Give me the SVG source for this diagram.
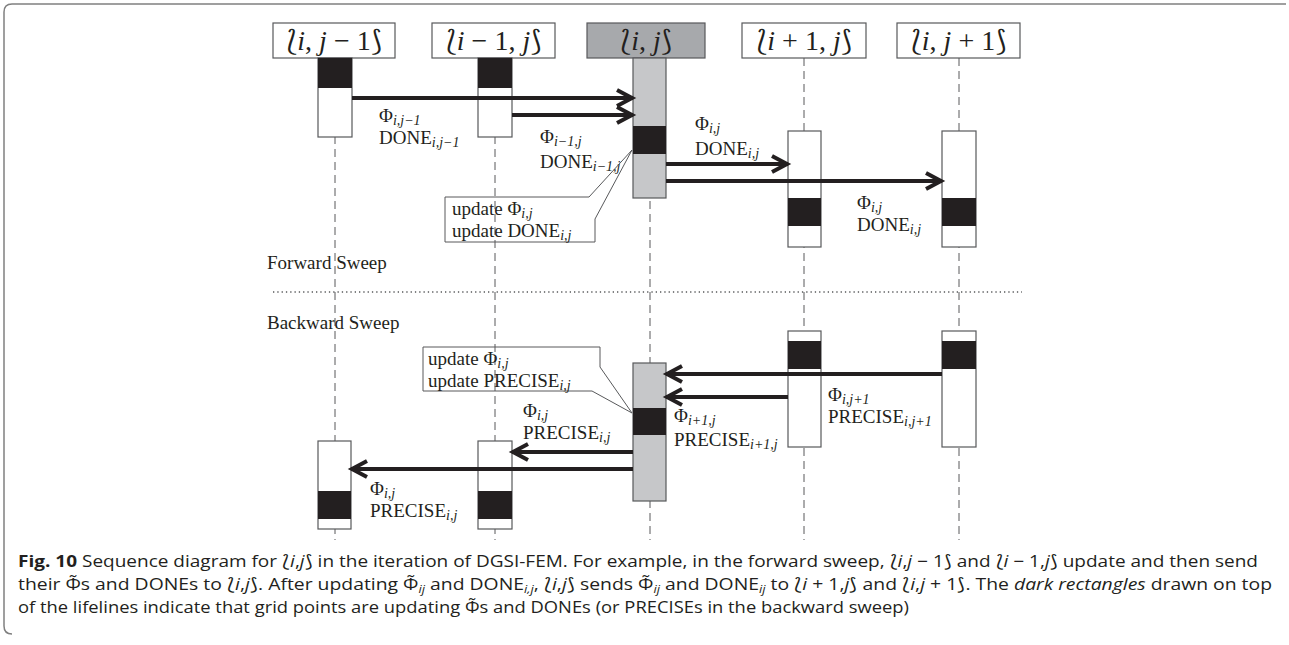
<svg xmlns="http://www.w3.org/2000/svg" width="1289" height="645" viewBox="0 0 1289 645">
<defs>
<style>
.frame{fill:none;stroke:#808080;stroke-width:1.5}
.hdr{fill:#fff;stroke:#58595b;stroke-width:1.2}
.hdrg{fill:#a7a9ac;stroke:#58595b;stroke-width:1.2}
.act{fill:#fff;stroke:#58595b;stroke-width:1.2}
.actg{fill:#c6c7c9;stroke:#58595b;stroke-width:1.2}
.blk{fill:#231f20}
.life{stroke:#58595b;stroke-width:1;stroke-dasharray:8 5;fill:none}
.dots{stroke:#58595b;stroke-width:1.3;stroke-dasharray:1.3 3;fill:none}
.msg{stroke:#231f20;stroke-width:4;fill:none}
.call{fill:none;stroke:#58595b;stroke-width:1}
.ht{font-family:"Liberation Serif","DejaVu Serif","DejaVu Sans",serif;font-size:28px;fill:#231f20;text-anchor:middle}
.t{font-family:"Liberation Serif","DejaVu Serif",serif;font-size:19px;fill:#231f20}
.s{font-style:italic;font-size:14px}
.cap{font-family:"Open Sans","Liberation Sans",sans-serif;font-size:16.5px;fill:#231f20}
</style>
<marker id="ah" markerUnits="userSpaceOnUse" markerWidth="30" markerHeight="30" refX="0" refY="0" viewBox="-20 -15 30 30" orient="auto" overflow="visible">
<path d="M -16 -8 L -1 0 L -16 8" fill="none" stroke="#231f20" stroke-width="4"/>
</marker>
</defs>
<path class="frame" d="M 12 634 Q 4 634 4 626 L 4 12 Q 4 4 12 4 L 1286 4"/>

<g id="lifelines">
<line class="life" x1="335" y1="58" x2="335" y2="540"/>
<line class="life" x1="495" y1="58" x2="495" y2="540"/>
<line class="life" x1="650" y1="58" x2="650" y2="540"/>
<line class="life" x1="804" y1="58" x2="804" y2="540"/>
<line class="life" x1="959" y1="58" x2="959" y2="540"/>
</g>

<g id="node-ij-1">
<rect class="hdr" x="273" y="23" width="122" height="35"/>
<text class="ht" x="334" y="50">⟅<tspan font-style="italic">i</tspan>, <tspan font-style="italic">j</tspan> − 1⟆</text>
<rect class="act" x="318" y="58" width="34" height="79"/><rect class="blk" x="318" y="58" width="34" height="30"/>
<rect class="act" x="318" y="441" width="33" height="88"/><rect class="blk" x="318" y="491" width="33" height="28"/>
</g>
<g id="node-i-1j">
<rect class="hdr" x="432" y="23" width="123" height="35"/>
<text class="ht" x="493.5" y="50">⟅<tspan font-style="italic">i</tspan> − 1, <tspan font-style="italic">j</tspan>⟆</text>
<rect class="act" x="478" y="58" width="34" height="79"/><rect class="blk" x="478" y="58" width="34" height="30"/>
<rect class="act" x="478" y="441" width="34" height="88"/><rect class="blk" x="478" y="491" width="34" height="28"/>
</g>
<g id="node-ij">
<rect class="hdrg" x="587" y="23" width="118" height="35"/>
<text class="ht" x="646" y="50">⟅<tspan font-style="italic">i</tspan>, <tspan font-style="italic">j</tspan>⟆</text>
<rect class="actg" x="633" y="58" width="33" height="140"/><rect class="blk" x="633" y="126" width="33" height="28"/>
<rect class="actg" x="633" y="363" width="33" height="138"/><rect class="blk" x="633" y="408" width="33" height="27"/>
</g>
<g id="node-i1j">
<rect class="hdr" x="742" y="23" width="124" height="35"/>
<text class="ht" x="804" y="50">⟅<tspan font-style="italic">i</tspan> + 1, <tspan font-style="italic">j</tspan>⟆</text>
<rect class="act" x="788" y="131" width="33" height="116"/><rect class="blk" x="788" y="198" width="33" height="28"/>
<rect class="act" x="788" y="331" width="33" height="116"/><rect class="blk" x="788" y="341" width="33" height="28"/>
</g>
<g id="node-ij1">
<rect class="hdr" x="897" y="23" width="123" height="35"/>
<text class="ht" x="958.5" y="50">⟅<tspan font-style="italic">i</tspan>, <tspan font-style="italic">j</tspan> + 1⟆</text>
<rect class="act" x="942" y="131" width="34" height="116"/><rect class="blk" x="942" y="198" width="34" height="28"/>
<rect class="act" x="942" y="331" width="34" height="116"/><rect class="blk" x="942" y="341" width="34" height="28"/>
</g>

<g id="connectors">
<line class="msg" x1="352" y1="98" x2="633" y2="98" marker-end="url(#ah)"/>
<line class="msg" x1="512" y1="115" x2="633" y2="115" marker-end="url(#ah)"/>
<line class="msg" x1="666" y1="164" x2="788" y2="164" marker-end="url(#ah)"/>
<line class="msg" x1="666" y1="181" x2="942" y2="181" marker-end="url(#ah)"/>
<line class="msg" x1="942" y1="374" x2="666" y2="374" marker-end="url(#ah)"/>
<line class="msg" x1="788" y1="397" x2="666" y2="397" marker-end="url(#ah)"/>
<line class="msg" x1="633" y1="452" x2="512" y2="452" marker-end="url(#ah)"/>
<line class="msg" x1="633" y1="469" x2="351" y2="469" marker-end="url(#ah)"/>
</g>

<g id="labels">
<text class="t" x="379" y="122">Φ<tspan class="s" dy="3">i,j−1</tspan></text>
<text class="t" x="379" y="144">DONE<tspan class="s" dy="3">i,j−1</tspan></text>
<text class="t" x="540" y="143">Φ<tspan class="s" dy="3">i−1,j</tspan></text>
<text class="t" x="540" y="168">DONE<tspan class="s" dy="3">i−1,j</tspan></text>
<text class="t" x="695" y="130">Φ<tspan class="s" dy="3">i,j</tspan></text>
<text class="t" x="695" y="155">DONE<tspan class="s" dy="3">i,j</tspan></text>
<text class="t" x="857" y="209">Φ<tspan class="s" dy="3">i,j</tspan></text>
<text class="t" x="857" y="231">DONE<tspan class="s" dy="3">i,j</tspan></text>
<text class="t" x="828" y="401">Φ<tspan class="s" dy="3">i,j+1</tspan></text>
<text class="t" x="828" y="423">PRECISE<tspan class="s" dy="3">i,j+1</tspan></text>
<text class="t" x="674" y="422">Φ<tspan class="s" dy="3">i+1,j</tspan></text>
<text class="t" x="674" y="446">PRECISE<tspan class="s" dy="3">i+1,j</tspan></text>
<text class="t" x="523" y="417">Φ<tspan class="s" dy="3">i,j</tspan></text>
<text class="t" x="523" y="439">PRECISE<tspan class="s" dy="3">i,j</tspan></text>
<text class="t" x="370" y="495">Φ<tspan class="s" dy="3">i,j</tspan></text>
<text class="t" x="370" y="517">PRECISE<tspan class="s" dy="3">i,j</tspan></text>
</g>

<g id="callout-forward">
<path class="call" d="M 445 197 H 589 L 632 150 L 595 219 V 242 H 445 Z"/>
<text class="t" x="452" y="215">update Φ<tspan class="s" dy="3">i,j</tspan></text>
<text class="t" x="452" y="237">update DONE<tspan class="s" dy="3">i,j</tspan></text>
</g>
<g id="callout-backward">
<path class="call" d="M 423 347 H 600 V 367 L 632 413 L 592 391 H 423 Z"/>
<text class="t" x="428" y="365">update Φ<tspan class="s" dy="3">i,j</tspan></text>
<text class="t" x="428" y="387">update PRECISE<tspan class="s" dy="3">i,j</tspan></text>
</g>

<g id="sweeps">
<text class="t" x="267" y="269">Forward Sweep</text>
<line class="dots" x1="273" y1="292" x2="1022" y2="292"/>
<text class="t" x="267" y="329">Backward Sweep</text>
</g>

<g id="caption">
<text class="cap" x="18" y="567" textLength="1240" lengthAdjust="spacingAndGlyphs"><tspan font-weight="bold">Fig. 10</tspan> Sequence diagram for ⟅<tspan font-style="italic">i</tspan>,<tspan font-style="italic">j</tspan>⟆ in the iteration of DGSI-FEM. For example, in the forward sweep, ⟅<tspan font-style="italic">i</tspan>,<tspan font-style="italic">j</tspan> − 1⟆ and ⟅<tspan font-style="italic">i</tspan> − 1,<tspan font-style="italic">j</tspan>⟆ update and then send</text>
<text class="cap" x="18" y="590" textLength="1254" lengthAdjust="spacingAndGlyphs">their Φ̃s and DONEs to ⟅<tspan font-style="italic">i</tspan>,<tspan font-style="italic">j</tspan>⟆. After updating Φ̃<tspan font-style="italic" font-size="11" dy="3">ij</tspan><tspan dy="-3"> and DONE</tspan><tspan font-style="italic" font-size="11" dy="3">i,j</tspan><tspan dy="-3">, ⟅</tspan><tspan font-style="italic">i</tspan>,<tspan font-style="italic">j</tspan>⟆ sends Φ̃<tspan font-style="italic" font-size="11" dy="3">ij</tspan><tspan dy="-3"> and DONE</tspan><tspan font-style="italic" font-size="11" dy="3">ij</tspan><tspan dy="-3"> to ⟅</tspan><tspan font-style="italic">i</tspan> + 1,<tspan font-style="italic">j</tspan>⟆ and ⟅<tspan font-style="italic">i</tspan>,<tspan font-style="italic">j</tspan> + 1⟆. The <tspan font-style="italic">dark rectangles</tspan> drawn on top</text>
<text class="cap" x="18" y="613" textLength="891" lengthAdjust="spacingAndGlyphs">of the lifelines indicate that grid points are updating Φ̃s and DONEs (or PRECISEs in the backward sweep)</text>
</g>
</svg>
